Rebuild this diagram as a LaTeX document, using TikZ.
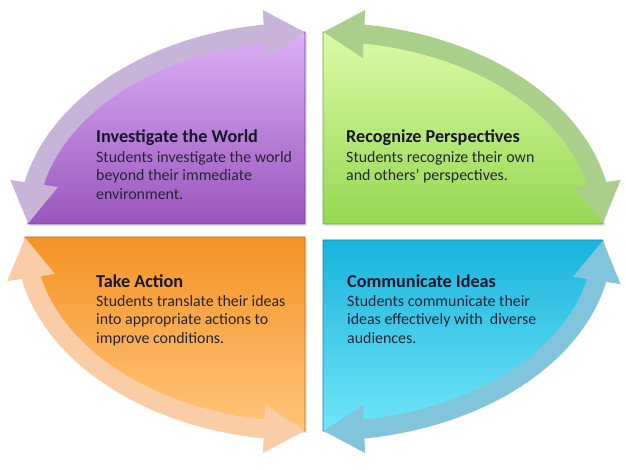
\documentclass[tikz,border=0pt]{standalone}
\usepackage{fontspec}
\setmainfont{Carlito}
\usetikzlibrary{arrows.meta,bending,positioning,shadows}

\definecolor{worldtop}{HTML}{DDB0F7}
\definecolor{worldbot}{HTML}{9A55BD}
\definecolor{worldband}{HTML}{C9B4D9}
\definecolor{persptop}{HTML}{DCFAA5}
\definecolor{perspbot}{HTML}{96D852}
\definecolor{perspband}{HTML}{A9CF8B}
\definecolor{actiontop}{HTML}{F59325}
\definecolor{actionbot}{HTML}{FFC57A}
\definecolor{actionband}{HTML}{FBCDA6}
\definecolor{ideastop}{HTML}{19B3DC}
\definecolor{ideasbot}{HTML}{70E6FA}
\definecolor{ideasband}{HTML}{80C5DB}
\definecolor{headcol}{HTML}{18162A}
\definecolor{bodycol}{HTML}{262436}

\begin{document}
\begin{tikzpicture}[
	%baseline,
	x=1pt,y=1pt,
	quad/.style={draw=#1!75!black,line width=0.8pt,drop shadow={shadow xshift=2pt,shadow yshift=-2pt,opacity=0.2}},
	band/.style={draw=#1,line width=19pt,arrows={Triangle[width=45pt,length=41pt]-Triangle[width=45pt,length=41pt]}},
	head/.style={inner sep=0pt,anchor=base west,text=headcol,font=\fontsize{18.2}{21}\selectfont\bfseries},
	body/.style={inner sep=0pt,align=left,text=bodycol,font=\fontsize{15.9}{18.7}\selectfont}
	]
	\useasboundingbox (0,0) rectangle (626,469);
	
	\shade[quad=worldbot,top color=worldtop,bottom color=worldbot] (305,245) -- (28,245) arc[start angle=180,end angle=90,x radius=277pt,y radius=192pt] -- cycle;
	\shade[quad=perspbot,top color=persptop,bottom color=perspbot] (323,245) -- (323,437) arc[start angle=90,end angle=0,x radius=280pt,y radius=192pt] -- cycle;
	\shade[quad=actiontop,top color=actiontop,bottom color=actionbot] (305,232) -- (25,232) arc[start angle=180,end angle=270,x radius=280pt,y radius=194pt] -- cycle;
	\shade[quad=ideastop,top color=ideastop,bottom color=ideasbot] (323,229) -- (603,229) arc[start angle=0,end angle=-90,x radius=280pt,y radius=191pt] -- cycle;
	
	\draw[band=worldband] (28,245) arc[start angle=180,end angle=90,x radius=277pt,y radius=192pt];
	\draw[band=perspband] (323,437) arc[start angle=90,end angle=0,x radius=280pt,y radius=192pt];
	\draw[band=actionband] (25,232) arc[start angle=180,end angle=270,x radius=280pt,y radius=194pt];
	\draw[band=ideasband] (603,229) arc[start angle=0,end angle=-90,x radius=280pt,y radius=191pt];
	
	\node[head] (worldhead) at (96,326) {Investigate the World};
	\node[body,below=5.9pt of worldhead.base west,anchor=north west] (worldtext) {\strut Students investigate the world\\beyond their immediate\\environment.};
	\node[head] (persphead) at (346,326) {Recognize Perspectives};
	\node[body,below=5.9pt of persphead.base west,anchor=north west] (persptext) {\strut Students recognize their own\\and others’ perspectives.};
	\node[head] (actionhead) at (96,182) {Take Action};
	\node[body,below=5.9pt of actionhead.base west,anchor=north west] (actiontext) {\strut Students translate their ideas\\into appropriate actions to\\improve conditions.};
	\node[head] (ideashead) at (347,182) {Communicate Ideas};
	\node[body,below=5.9pt of ideashead.base west,anchor=north west] (ideastext) {\strut Students communicate their\\ideas effectively with~ diverse\\audiences.};
\end{tikzpicture}
\end{document}
